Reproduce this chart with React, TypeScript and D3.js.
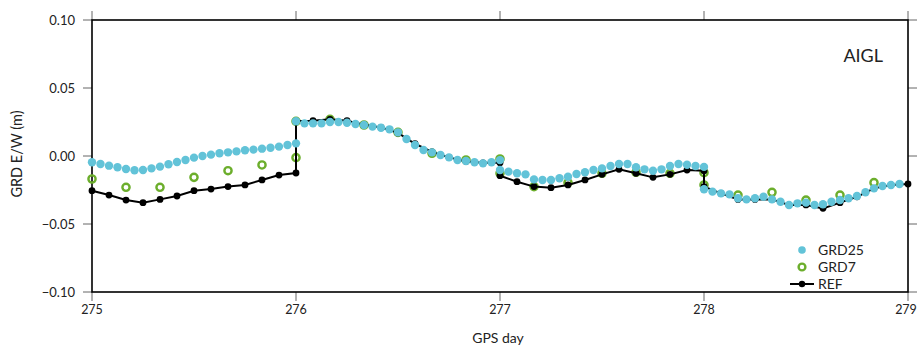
import React from "react";
import * as d3 from "d3";

// ---- Data (GPS day 275–279, E/W component in metres) ----
const days = [275, 276, 277, 278];
const xTicks = [275, 276, 277, 278, 279];
const yTicks = [-0.1, -0.05, 0, 0.05, 0.1];

// GRD25: hourly solutions (per day)
const grd25_275 = [-0.0046, -0.0059, -0.0071, -0.0083, -0.0096, -0.0105, -0.0103, -0.0091, -0.0078, -0.0061, -0.0044, -0.0029, -0.0012, 0.0, 0.001, 0.002, 0.0027, 0.0034, 0.0042, 0.0047, 0.0054, 0.0061, 0.0069, 0.0081, 0.0093];
const grd25_276 = [0.0255, 0.024, 0.024, 0.024, 0.025, 0.025, 0.0245, 0.0235, 0.0228, 0.0216, 0.0208, 0.0196, 0.0174, 0.0125, 0.0081, 0.0044, 0.0027, 0.0007, -0.001, -0.0029, -0.0037, -0.0046, -0.0054, -0.0046, -0.003];
const grd25_277 = [-0.0103, -0.0115, -0.0127, -0.0135, -0.0172, -0.0176, -0.0176, -0.0164, -0.0152, -0.0132, -0.012, -0.0103, -0.0091, -0.0074, -0.0059, -0.0059, -0.0083, -0.0098, -0.0108, -0.0098, -0.0074, -0.0059, -0.0064, -0.0074, -0.008];
const grd25_278 = [-0.0245, -0.0262, -0.0275, -0.0282, -0.0311, -0.0319, -0.0311, -0.0299, -0.0319, -0.0336, -0.036, -0.0348, -0.0343, -0.036, -0.0355, -0.0336, -0.0324, -0.0311, -0.0294, -0.0267, -0.0238, -0.0221, -0.0213, -0.0206];

// GRD7: 4-hourly solutions
const grd7_275 = [-0.0169, -0.023, -0.023, -0.0157, -0.0108, -0.0066, -0.0012];
const grd7_276 = [0.0255, 0.027, 0.0228, 0.0174, 0.002, -0.0029, -0.0022];
const grd7_277 = [-0.0127, -0.0225, -0.0196, -0.0127, -0.012, -0.0127, -0.0123];
const grd7_278 = [-0.0213, -0.0287, -0.0267, -0.0324, -0.0287, -0.0196];

// REF: 2-hourly solutions
const ref_275 = [-0.0255, -0.0287, -0.0324, -0.0343, -0.0319, -0.0294, -0.0255, -0.0243, -0.0225, -0.0213, -0.0176, -0.014, -0.0125];
const ref_276 = [0.0257, 0.026, 0.027, 0.026, 0.023, 0.021, 0.017, 0.009, 0.003, -0.001, -0.004, -0.005, -0.005];
const ref_277 = [-0.0145, -0.0189, -0.0225, -0.0233, -0.0213, -0.0176, -0.0135, -0.0098, -0.0127, -0.0157, -0.0135, -0.0103, -0.0108];
const ref_278 = [-0.0225, -0.0275, -0.0319, -0.0319, -0.0319, -0.036, -0.036, -0.0385, -0.0343, -0.03, -0.0238, -0.0213, -0.0206];

const grd25Days = [grd25_275, grd25_276, grd25_277, grd25_278];
const grd7Days = [grd7_275, grd7_276, grd7_277, grd7_278];
const refDays = [ref_275, ref_276, ref_277, ref_278];

const legendLabels = ["GRD25", "GRD7", "REF"];
const stationName = "AIGL";

type Pt = { t: number; v: number };
function toPoints(perDay: number[][], stepHours: number): Pt[] {
  const out: Pt[] = [];
  perDay.forEach((vals, i) => {
    vals.forEach((v, k) => out.push({ t: days[i] + (k * stepHours) / 24, v }));
  });
  return out;
}

const W = 917;
const H = 347;
const M = { left: 92, right: 9, top: 20, bottom: 55 };
const FONT = "Lato, 'Noto Sans', sans-serif";
const CYAN = "#62c3d8";
const GREEN = "#6cae2c";

export default function App() {
  const x = d3.scaleLinear().domain([275, 279]).range([M.left, W - M.right]);
  const y = d3.scaleLinear().domain([-0.1, 0.1]).range([H - M.bottom, M.top]);
  const x0 = x.range()[0], x1 = x.range()[1];
  const yTop = y.range()[1], yBot = y.range()[0];

  const g25 = toPoints(grd25Days, 1);
  const g7 = toPoints(grd7Days, 4);
  const ref = toPoints(refDays, 2);
  const line = d3.line<Pt>().x((d) => x(d.t)).y((d) => y(d.v));
  const fmtY = d3.format(".2f");
  const tickLen = 9;
  const tickColor = "#666";

  const legX = 802;
  const legY = [250, 267, 284];

  return (
    <svg width={W} height={H} style={{ position: "absolute", left: 0, top: 0, background: "#fff" }} fontFamily={FONT}>
      {/* ticks on all sides */}
      {xTicks.map((t) => (
        <g key={"xt" + t}>
          <line x1={x(t)} x2={x(t)} y1={yBot} y2={yBot + tickLen} stroke={tickColor} strokeWidth={1} />
          <line x1={x(t)} x2={x(t)} y1={yTop} y2={yTop - tickLen} stroke={tickColor} strokeWidth={1} />
          <text x={Math.min(x(t), W - 11)} y={yBot + 22} textAnchor="middle" fontSize={12.5} fill="#222">{t}</text>
        </g>
      ))}
      {yTicks.map((t) => (
        <g key={"yt" + t}>
          <line x1={x0} x2={x0 - tickLen} y1={y(t)} y2={y(t)} stroke={tickColor} strokeWidth={1} />
          <line x1={x1} x2={x1 + tickLen} y1={y(t)} y2={y(t)} stroke={tickColor} strokeWidth={1} />
          <text x={x0 - 17} y={y(t)} dy="0.35em" textAnchor="end" fontSize={13} fill="#222">{fmtY(t)}</text>
        </g>
      ))}
      {/* frame */}
      <rect x={x0} y={yTop} width={x1 - x0} height={yBot - yTop} fill="none" stroke="#000" strokeWidth={1.6} />

      {/* GRD7 */}
      {g7.map((d, i) => (
        <circle key={"g7" + i} cx={x(d.t)} cy={y(d.v)} r={3.6} fill="none" stroke={GREEN} strokeWidth={2.4} />
      ))}
      {/* REF */}
      <path d={line(ref) || ""} fill="none" stroke="#000" strokeWidth={2} />
      {ref.map((d, i) => (
        <circle key={"rf" + i} cx={x(d.t)} cy={y(d.v)} r={3.4} fill="#000" />
      ))}
      {/* GRD25 */}
      {g25.map((d, i) => (
        <circle key={"g25" + i} cx={x(d.t)} cy={y(d.v)} r={4.2} fill={CYAN} />
      ))}

      {/* station */}
      <text x={883} y={62} textAnchor="end" fontSize={18} fill="#222">{stationName}</text>

      {/* legend */}
      <circle cx={legX} cy={legY[0]} r={3.8} fill={CYAN} />
      <circle cx={legX} cy={legY[1]} r={3.4} fill="none" stroke={GREEN} strokeWidth={2.4} />
      <line x1={legX - 12} x2={legX + 12} y1={legY[2]} y2={legY[2]} stroke="#000" strokeWidth={2} />
      <circle cx={legX} cy={legY[2]} r={3.2} fill="#000" />
      {legendLabels.map((l, i) => (
        <text key={l} x={legX + 16} y={legY[i]} dy="0.36em" fontSize={14} fill="#222">{l}</text>
      ))}

      {/* axis titles */}
      <text x={(x0 + x1) / 2 - 2} y={H - 4} textAnchor="middle" fontSize={14} fill="#222">GPS day</text>
      <text transform={`translate(22,${(yTop + yBot) / 2 - 2}) rotate(-90)`} textAnchor="middle" fontSize={14.5} fill="#222">GRD E/W (m)</text>
    </svg>
  );
}
